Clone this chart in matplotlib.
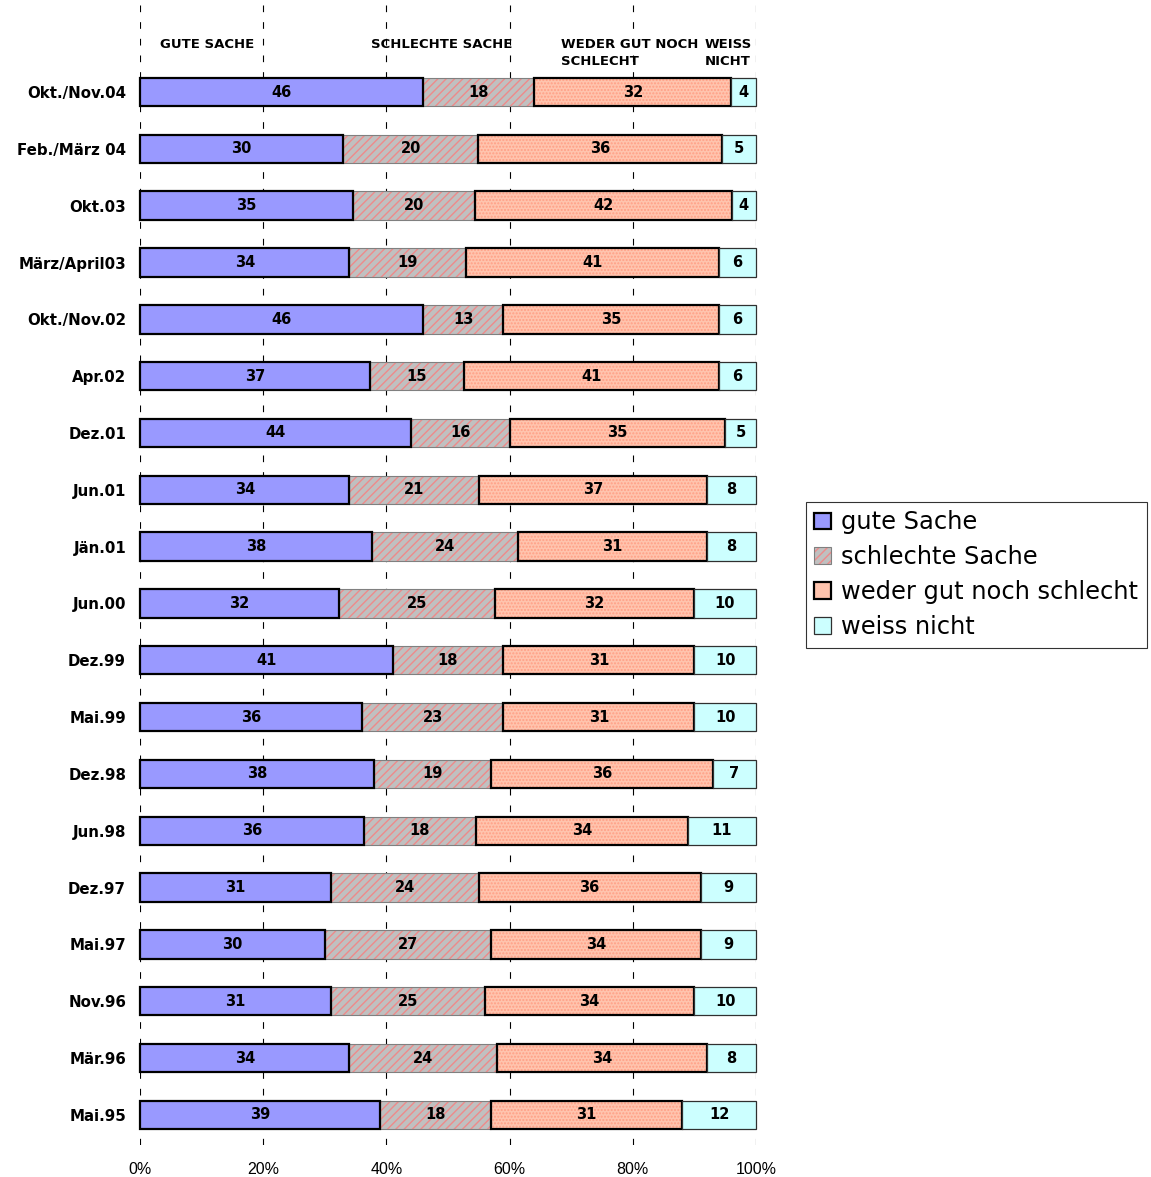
import numpy as np
import matplotlib.pyplot as plt
from matplotlib.patches import Patch

# Umfragewerte (Zeilen von oben nach unten)
periods = ['Okt./Nov.04', 'Feb./März 04', 'Okt.03', 'März/April03', 'Okt./Nov.02',
           'Apr.02', 'Dez.01', 'Jun.01', 'Jän.01', 'Jun.00', 'Dez.99', 'Mai.99',
           'Dez.98', 'Jun.98', 'Dez.97', 'Mai.97', 'Nov.96', 'Mär.96', 'Mai.95']
gute = [46, 30, 35, 34, 46, 37, 44, 34, 38, 32, 41, 36, 38, 36, 31, 30, 31, 34, 39]
schlechte = [18, 20, 20, 19, 13, 15, 16, 21, 24, 25, 18, 23, 19, 18, 24, 27, 25, 24, 18]
weder = [32, 36, 42, 41, 35, 41, 35, 37, 31, 32, 31, 31, 36, 34, 36, 34, 34, 34, 31]
weiss = [4, 5, 4, 6, 6, 6, 5, 8, 8, 10, 10, 10, 7, 11, 9, 9, 10, 8, 12]

series_names = ['gute Sache', 'schlechte Sache', 'weder gut noch schlecht', 'weiss nicht']
headers = ['GUTE SACHE', 'SCHLECHTE SACHE', 'WEDER GUT NOCH\nSCHLECHT', 'WEISS\nNICHT']
header_x = [3.2, 37.5, 68.3, 91.7]

plt.rcParams['hatch.linewidth'] = 1.0

data = np.array([gute, schlechte, weder, weiss], dtype=float)
share = data / data.sum(axis=0) * 100
y = np.arange(len(periods))

fig = plt.figure(figsize=(11.51, 11.77), dpi=100)
ax = fig.add_axes([140 / 1151, 1 - 1145 / 1177, 616 / 1151, 1145 / 1177])

styles = [
    dict(color='#9999FF', edgecolor='black', linewidth=1.6, hatch=None, hcol=None),
    dict(color='#C0C0C0', edgecolor='#808080', linewidth=0.8, hatch='////', hcol='#EE8A8A'),
    dict(color='#FFC4AE', edgecolor='black', linewidth=1.6, hatch='.....', hcol='#FF9F85'),
    dict(color='#CCFFFF', edgecolor='#303030', linewidth=0.9, hatch=None, hcol=None),
]

left = np.zeros(len(periods))
for i, st in enumerate(styles):
    if st['hatch']:
        ax.barh(y, share[i], left=left, height=0.5, color=st['color'],
                edgecolor=st['hcol'], linewidth=0, hatch=st['hatch'], zorder=2)
        ax.barh(y, share[i], left=left, height=0.5, fill=False,
                edgecolor=st['edgecolor'], linewidth=st['linewidth'], zorder=3)
    else:
        bars = ax.barh(y, share[i], left=left, height=0.5, color=st['color'],
                       edgecolor=st['edgecolor'], linewidth=st['linewidth'], zorder=4)
        for b in bars:
            b.set_clip_on(False)
    for k in range(len(periods)):
        ax.text(left[k] + share[i][k] / 2, y[k], f'{int(data[i][k])}', ha='center',
                va='center', fontsize=10.5, fontweight='bold', zorder=5)
    left += share[i]

# Kopfzeilen
for txt, xh in zip(headers, header_x):
    ax.text(xh, -0.95, txt, ha='left', va='top', fontsize=9.5, fontweight='bold',
            linespacing=1.4)

ax.set_xlim(0, 100)
ax.set_ylim(len(periods) - 1 + 0.53, -1.62)
ax.set_yticks(y)
ax.set_yticklabels(periods, fontsize=10.8, fontweight='bold')
ax.set_xticks(range(0, 101, 20))
ax.set_xticklabels([f'{v}%' for v in range(0, 101, 20)], family='Liberation Sans',
                   fontsize=11.5)
ax.tick_params(axis='y', length=0, pad=10)
ax.tick_params(axis='x', length=0, pad=12)
for s in ax.spines.values():
    s.set_visible(False)
ax.set_axisbelow(True)
ax.grid(axis='x', color='black', linewidth=0.8, linestyle=(0, (6, 9)))

handles = [
    Patch(facecolor='#9999FF', edgecolor='black', linewidth=1.6),
    (Patch(facecolor='#C0C0C0', edgecolor='#EE8A8A', linewidth=0, hatch='////'),
     Patch(fill=False, edgecolor='#808080', linewidth=0.8)),
    Patch(facecolor='#FFC4AE', edgecolor='black', linewidth=1.6),
    Patch(facecolor='#CCFFFF', edgecolor='#303030', linewidth=0.9),
]
leg = fig.legend(handles, series_names, loc='upper left',
                 bbox_to_anchor=(806 / 1151, 1 - 502 / 1177), fontsize=17.4,
                 frameon=True, fancybox=False, handlelength=0.7, handleheight=0.7,
                 handletextpad=0.4, borderpad=0.35, labelspacing=0.45,
                 borderaxespad=0)
leg.get_frame().set_edgecolor('black')
leg.get_frame().set_linewidth(0.8)

fig.savefig('out.png', dpi=100)
